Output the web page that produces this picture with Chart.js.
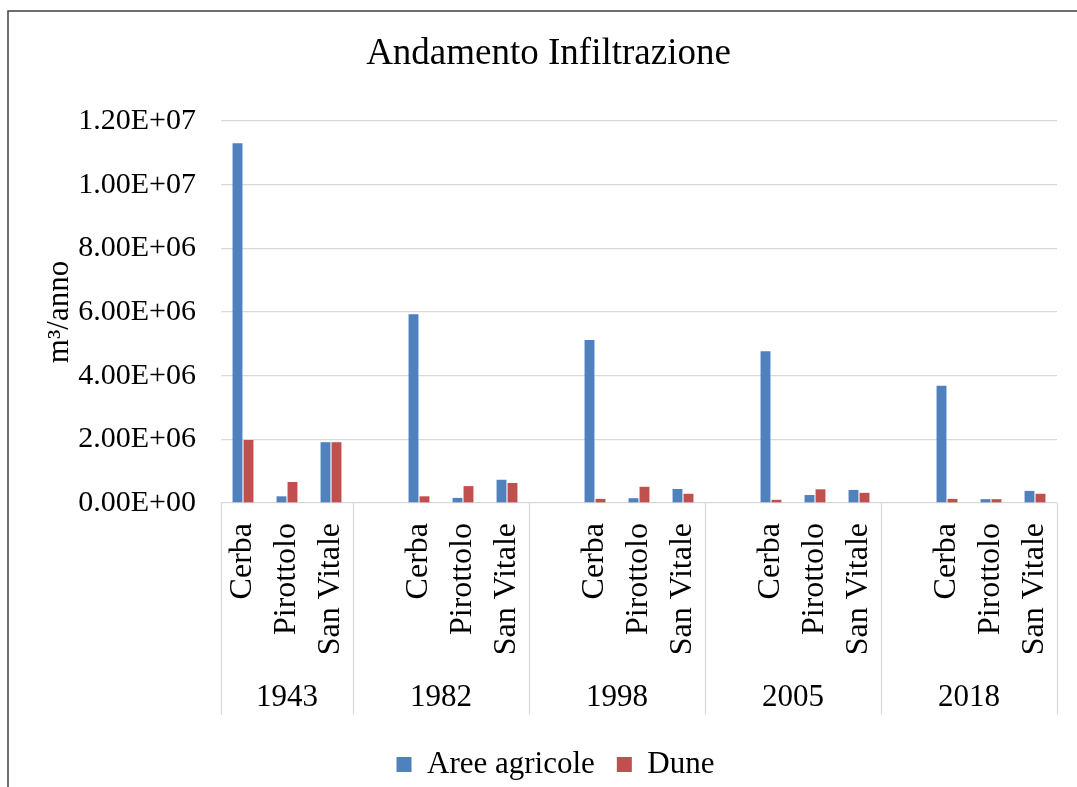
<!DOCTYPE html>
<html lang="it">
<head>
<meta charset="utf-8">
<title>Andamento Infiltrazione</title>
<script src="https://cdn.jsdelivr.net/npm/chart.js@4.4.1/dist/chart.umd.min.js"></script>
<style>
    html, body { margin: 0; padding: 0; background: #fff; }
    #wrap { width: 1077px; height: 787px; }
</style>
</head>
<body>
<div id="wrap"><canvas id="infiltrazioneChart" width="1077" height="787"></canvas></div>
<script>
// years and sites, in the order they sit on the axis
const years = ['1943', '1982', '1998', '2005', '2018'];
const sites = ['Cerba', 'Pirottolo', 'San Vitale'];

// m3/anno per site, one row per year
const areeAgricole = [
    [11300000, 210000, 1910000],
    [5930000, 160000, 730000],
    [5120000, 150000, 440000],
    [4770000, 250000, 410000],
    [3680000, 120000, 380000]
];
const dune = [
    [1980000, 660000, 1910000],
    [210000, 530000, 630000],
    [130000, 510000, 290000],
    [100000, 430000, 320000],
    [130000, 120000, 290000]
];

const yTicks = [0, 2000000, 4000000, 6000000, 8000000, 10000000, 12000000];

const colors = {
    blue: '#4f81bd',
    red: '#c0504d',
    grid: '#d9d9d9',
    frame: '#3f3f3f'
};
const serif = "'Liberation Serif', 'Times New Roman', serif";

// flat category list: an empty slot opens every group after the first
const labels = [];
const groups = [];
const agricoleFlat = [];
const duneFlat = [];
years.forEach((year, g) => {
    const start = labels.length;
    if (g > 0) {
        labels.push('');
        agricoleFlat.push(null);
        duneFlat.push(null);
    }
    sites.forEach((site, s) => {
        labels.push(site);
        agricoleFlat.push(areeAgricole[g][s]);
        duneFlat.push(dune[g][s]);
    });
    groups.push({ year, start, end: labels.length - 1 });
});

function sciLabel(v) {
    const [mant, exp] = Number(v).toExponential(2).split('e');
    const sign = exp[0] === '-' ? '-' : '+';
    return mant + 'E' + sign + exp.replace(/[+-]/, '').padStart(2, '0');
}

// year row under the site names, with the group separators
const groupAxis = {
    id: 'groupAxis',
    afterDraw(chart) {
        const x = chart.scales.x;
        const ctx = chart.ctx;
        const half = (x.getPixelForValue(1) - x.getPixelForValue(0)) / 2;
        const top = chart.chartArea.bottom;
        const bottom = 715;
        ctx.save();
        ctx.strokeStyle = colors.grid;
        ctx.lineWidth = 1.3;
        const edges = groups.map(gr => x.getPixelForValue(gr.start) - half);
        edges.push(x.getPixelForValue(labels.length - 1) + half);
        edges.forEach(px => {
            ctx.beginPath();
            ctx.moveTo(Math.round(px) + 0.5, top);
            ctx.lineTo(Math.round(px) + 0.5, bottom);
            ctx.stroke();
        });
        ctx.fillStyle = '#000';
        ctx.font = '31px ' + serif;
        ctx.textAlign = 'center';
        ctx.textBaseline = 'alphabetic';
        groups.forEach((gr, i) => {
            ctx.fillText(gr.year, (edges[i] + edges[i + 1]) / 2, 706);
        });
        ctx.restore();
    }
};

// outer frame of the chart
const frame = {
    id: 'frame',
    beforeDraw(chart) {
        const ctx = chart.ctx;
        ctx.save();
        ctx.strokeStyle = colors.frame;
        ctx.lineWidth = 1.5;
        ctx.beginPath();
        ctx.moveTo(8, chart.height + 2);
        ctx.lineTo(8, 11);
        ctx.lineTo(chart.width + 2, 11);
        ctx.stroke();
        ctx.restore();
    }
};

// centre the legend under the plot
const legendNudge = {
    id: 'legendNudge',
    afterLayout(chart) {
        chart.legend.left += 7;
        chart.legend.right += 7;
    }
};

Chart.defaults.color = '#000';
Chart.defaults.font.family = serif;

new Chart('infiltrazioneChart', {
    type: 'bar',
    data: {
        labels: labels,
        datasets: [
            {
                label: 'Aree agricole',
                data: agricoleFlat,
                backgroundColor: colors.blue,
                categoryPercentage: 0.5,
                barPercentage: 0.9
            },
            {
                label: 'Dune',
                data: duneFlat,
                backgroundColor: colors.red,
                categoryPercentage: 0.5,
                barPercentage: 0.9
            }
        ]
    },
    options: {
        responsive: false,
        animation: false,
        layout: {
            padding: { left: 20, right: 0, top: 0, bottom: -3 }
        },
        plugins: {
            title: {
                display: true,
                text: 'Andamento Infiltrazione',
                color: '#000',
                font: { size: 37, weight: 'normal' },
                padding: { top: 32, bottom: 44.6 }
            },
            legend: {
                position: 'bottom',
                labels: {
                    font: { size: 31 },
                    boxWidth: 15,
                    boxHeight: 15,
                    padding: 22
                }
            },
            tooltip: { enabled: false }
        },
        scales: {
            x: {
                grid: { display: false, drawTicks: false },
                border: { display: false },
                ticks: {
                    autoSkip: false,
                    minRotation: 90,
                    maxRotation: 90,
                    padding: 20,
                    font: { size: 32 }
                },
                afterFit(scale) {
                    scale.height = 224;
                    scale.paddingLeft = 0;
                    scale.paddingRight = 20;
                }
            },
            y: {
                min: 0,
                max: yTicks[yTicks.length - 1],
                afterBuildTicks(scale) {
                    scale.ticks = yTicks.map(v => ({ value: v }));
                },
                grid: { color: colors.grid, lineWidth: 1.3, drawTicks: false },
                border: { display: false },
                ticks: {
                    padding: 25,
                    font: { size: 30 },
                    callback: v => sciLabel(v)
                },
                title: {
                    display: true,
                    text: 'm³/anno',
                    font: { size: 31 },
                    padding: { top: 21 }
                },
                afterFit(scale) { scale.width = 201; }
            }
        }
    },
    plugins: [frame, groupAxis, legendNudge]
});
</script>
</body>
</html>
